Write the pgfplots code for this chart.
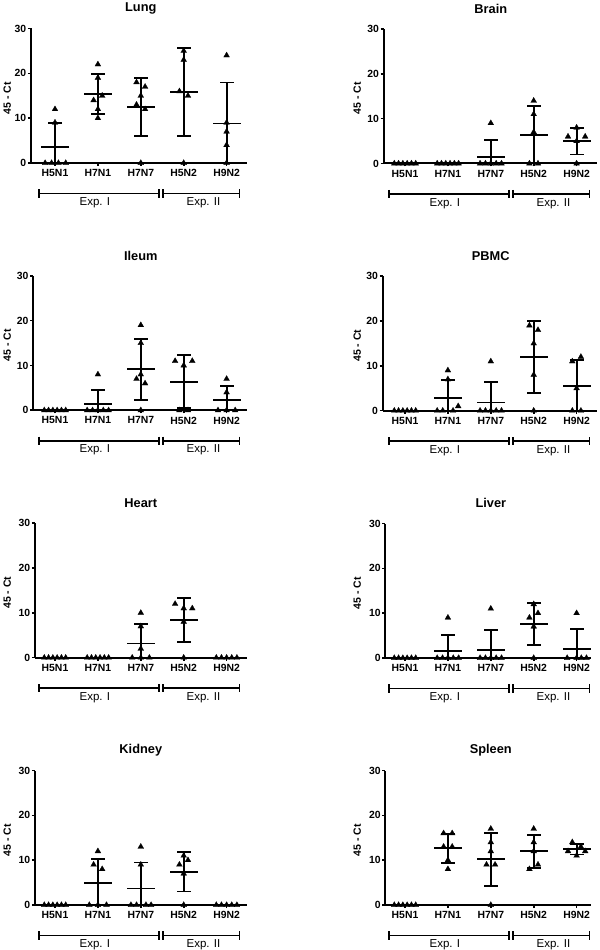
\documentclass[border=0pt]{standalone}
\usepackage{pgfplots}
\usepackage{pgfplotstable}
\pgfplotsset{compat=1.18}
\usepackage{fontspec}
\setmainfont{Liberation Sans}

\pgfplotstableread{
x m lo hi
0 3.5 0 9.0
1 15.33 10.88 19.79
2 12.5 5.97 19.03
3 15.8 5.97 25.63
4 8.8 0 17.95
}\statLung
\pgfplotstableread{
x m lo hi
0 0 0 0
1 0 0 0
2 1.5 0 5.17
3 6.4 0.05 12.75
4 5 2 8
}\statBrain
\pgfplotstableread{
x m lo hi
0 0 0 0
1 1.33 0 4.6
2 9.17 2.37 15.96
3 6.4 0.54 12.26
4 2.2 0 5.39
}\statIleum
\pgfplotstableread{
x m lo hi
0 0 0 0
1 2.83 0 6.9
2 1.83 0 6.32
3 12 4.03 19.97
4 5.6 0 11.37
}\statPBMC
\pgfplotstableread{
x m lo hi
0 0 0 0
1 0 0 0
2 3.17 0 7.48
3 8.4 3.47 13.33
4 0 0 0
}\statHeart
\pgfplotstableread{
x m lo hi
0 0 0 0
1 1.5 0 5.17
2 1.83 0 6.32
3 7.6 2.98 12.22
4 2 0 6.47
}\statLiver
\pgfplotstableread{
x m lo hi
0 0 0 0
1 4.83 0 10.29
2 3.67 0 9.49
3 7.4 3.01 11.79
4 0 0 0
}\statKidney
\pgfplotstableread{
x m lo hi
0 0 0 0
1 12.67 9.46 15.87
2 10.17 4.32 16.02
3 12 8.33 15.67
4 12.4 11.26 13.54
}\statSpleen

\pgfplotsset{
  panel/.style={
    x=42.9bp, y=4.483bp,
    anchor=origin,
    ymin=0, ymax=30,
    axis x line*=bottom, axis y line*=left,
    axis line style={line width=2bp, -, black},
    xtick={0,1,2,3,4},
    xticklabels={H5N1,H7N1,H7N7,H5N2,H9N2},
    ytick={0,10,20,30},
    tick align=outside,
    major tick length=3bp,
    tick style={line width=1.6bp, black},
    ticklabel style={font=\bfseries\fontsize{10.4bp}{12bp}\selectfont},
    yticklabel style={inner xsep=1.5bp},
    /pgf/number format/assume math mode=true,
    clip=false,
  },
  capst/.style={black, only marks, mark=-, mark size=7bp, mark options={line width=1.9bp, black}},
  meanst/.style={black, only marks, mark=-, mark size=14bp, mark options={line width=1.9bp, black}},
  ptst/.style={black, only marks, mark=triangle*, mark size=3.4bp, mark options={fill=black, draw=black, line width=0.2bp}},
}

\newcommand{\expbrackets}{%
  \draw[line width=1.9bp] (axis cs:-0.37,-6.8) -- (axis cs:2.43,-6.8);
  \draw[line width=1.9bp] (axis cs:2.51,-6.8) -- (axis cs:4.3,-6.8);
  \draw[line width=1.8bp] (axis cs:-0.37,-5.9) -- (axis cs:-0.37,-7.7);
  \draw[line width=1.8bp] (axis cs:2.43,-5.9) -- (axis cs:2.43,-7.7);
  \draw[line width=1.8bp] (axis cs:2.51,-5.9) -- (axis cs:2.51,-7.7);
  \draw[line width=1.8bp] (axis cs:4.3,-5.9) -- (axis cs:4.3,-7.7);
  \node[font=\fontsize{11.5bp}{13bp}\selectfont] at (axis cs:0.93,-8.9) {Exp. I};
  \node[font=\fontsize{11.5bp}{13bp}\selectfont] at (axis cs:3.46,-8.9) {Exp. II};
}

\newcommand{\panel}[7]{%
\begin{axis}[panel, at={(#2bp,#3bp)}, xmin=#4, xmax=#5]
\addplot[black, draw=none, mark=none, forget plot,
  error bars/.cd, y dir=both, y explicit, error mark=none,
  error bar style={draw=black, line width=1.9bp}]
  table[x=x, y=m, y error plus expr=\thisrow{hi}-\thisrow{m}, y error minus expr=\thisrow{m}-\thisrow{lo}] {#6};
\addplot[capst] table[x=x, y=hi] {#6};
\addplot[capst] table[x=x, y=lo] {#6};
\addplot[meanst] table[x=x, y=m] {#6};
\addplot[ptst] coordinates {#7};
\node[font=\bfseries\fontsize{12.8bp}{14bp}\selectfont] at (axis cs:2,34.5) {#1};
\node[rotate=90, font=\bfseries\fontsize{10.5bp}{12bp}\selectfont] at (axis cs:-1.115,14.5) {45 - Ct};
\expbrackets
\end{axis}}

\begin{document}
\begin{tikzpicture}
\useasboundingbox (0,0) rectangle (600bp,950bp);

\panel{Lung}{55}{787}{-0.56}{4.47}{\statLung}{
(0,12)(0,9)(-0.23,0)(-0.08,0)(0.08,0)(0.25,0)
(1,22)(1,19)(0.9,14)(1.1,15)(1,12)(1,10)
(1.9,18)(2.1,17)(2,15)(1.9,13)(2.1,12)(2,0)
(3,25)(3,23)(2.9,16)(3.1,15)(3,0)
(4,24)(4,9)(4,7)(4,4)(4,0)}

\panel{Brain}{405}{786.5}{-0.5}{4.47}{\statBrain}{
(-0.25,0)(-0.15,0)(-0.05,0)(0.05,0)(0.15,0)(0.25,0)
(0.75,0)(0.85,0)(0.95,0)(1.05,0)(1.15,0)(1.25,0)
(2,9)(1.75,0)(1.875,0)(2,0)(2.125,0)(2.25,0)
(3,14)(3,11)(3,7)(2.9,0)(3.1,0)
(4,8)(3.8,6)(4.2,6)(4,5)(4,0)}

\panel{Ileum}{55}{539.7}{-0.51}{4.47}{\statIleum}{
(-0.25,0)(-0.15,0)(-0.05,0)(0.05,0)(0.15,0)(0.25,0)
(1,8)(0.75,0)(0.875,0)(1,0)(1.125,0)(1.25,0)
(2,19)(2,15)(2,8)(1.9,7)(2.1,6)(2,0)
(2.8,11)(3,10)(3.2,11)(2.9,0)(3.1,0)
(4,7)(4,4)(3.8,0)(4,0)(4.2,0)}

\panel{PBMC}{405}{539.3}{-0.52}{4.47}{\statPBMC}{
(-0.25,0)(-0.15,0)(-0.05,0)(0.05,0)(0.15,0)(0.25,0)
(1,9)(1,7)(1.24,1)(0.75,0)(0.88,0)(1.12,0)
(2,11)(1.75,0)(1.875,0)(2,0)(2.125,0)(2.25,0)
(2.9,19)(3.1,18)(3,15)(3,8)(3,0)
(3.9,11)(4.1,12)(4,5)(3.9,0)(4.1,0)}

\panel{Heart}{55}{292.3}{-0.47}{4.47}{\statHeart}{
(-0.25,0)(-0.15,0)(-0.05,0)(0.05,0)(0.15,0)(0.25,0)
(0.75,0)(0.85,0)(0.95,0)(1.05,0)(1.15,0)(1.25,0)
(2,10)(2,7)(2,2)(1.8,0)(2,0)(2.2,0)
(2.8,12)(3,11)(3.2,11)(3,8)(3,0)
(3.76,0)(3.88,0)(4,0)(4.12,0)(4.24,0)}

\panel{Liver}{405}{292}{-0.46}{4.33}{\statLiver}{
(-0.25,0)(-0.15,0)(-0.05,0)(0.05,0)(0.15,0)(0.25,0)
(1,9)(0.75,0)(0.875,0)(1,0)(1.125,0)(1.25,0)
(2,11)(1.75,0)(1.875,0)(2,0)(2.125,0)(2.25,0)
(3,12)(2.9,9)(3.1,10)(3,7)(3,0)
(4,10)(3.78,0)(4,0)(4.11,0)(4.23,0)}

\panel{Kidney}{55}{45}{-0.47}{4.47}{\statKidney}{
(-0.25,0)(-0.15,0)(-0.05,0)(0.05,0)(0.15,0)(0.25,0)
(1,12)(0.9,9)(1.1,8)(0.8,0)(1,0)(1.2,0)
(2,13)(2,9)(1.77,0)(1.9,0)(2.12,0)(2.24,0)
(3,11)(2.9,9)(3.1,10)(3,7)(3,0)
(3.76,0)(3.88,0)(4,0)(4.12,0)(4.24,0)}

\panel{Spleen}{405}{45}{-0.46}{4.33}{\statSpleen}{
(-0.25,0)(-0.15,0)(-0.05,0)(0.05,0)(0.15,0)(0.25,0)
(0.9,16)(1.1,16)(0.9,13)(1.1,13)(1,10)(1,8)
(2,17)(2,14)(2,12)(1.9,9)(2.1,9)(2,0)
(3,17)(3,14)(3,12)(2.9,8)(3.1,9)
(3.9,14)(4.1,13)(3.8,12)(4.2,12)(4,11)}

\end{tikzpicture}
\end{document}
